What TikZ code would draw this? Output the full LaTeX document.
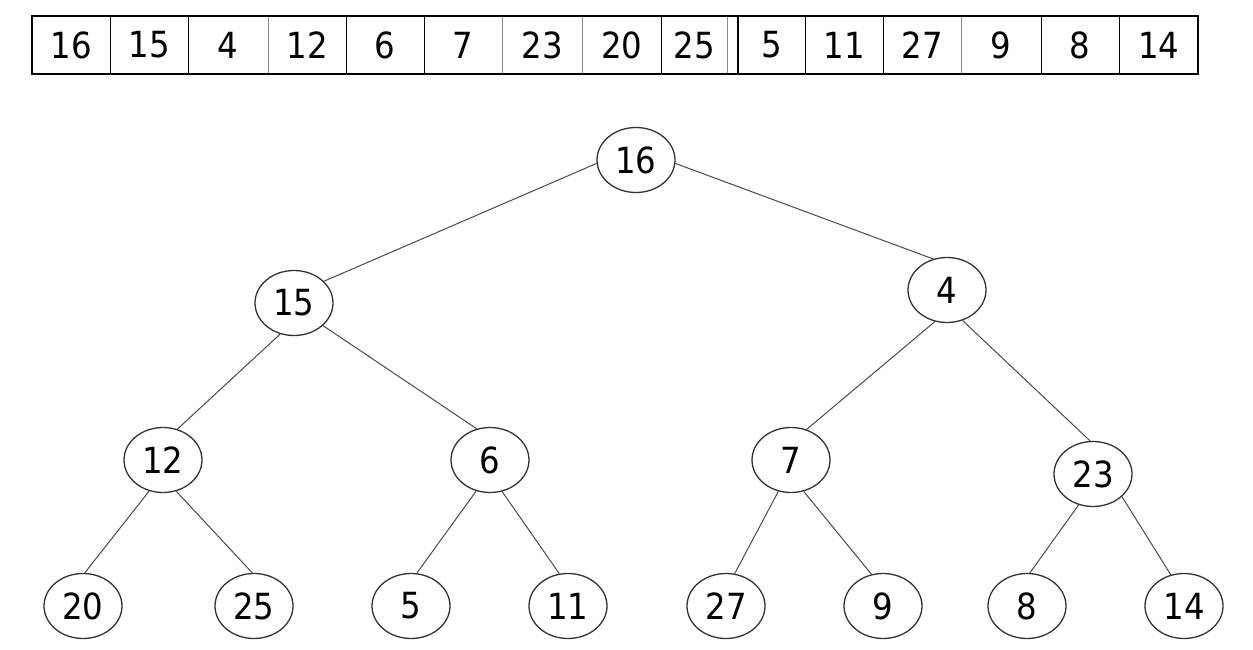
\documentclass[tikz,border=0pt]{standalone}
\usepackage{fontspec}
\setmainfont{DejaVu Sans}[FakeStretch=0.9]
\usetikzlibrary{shapes.geometric}
\definecolor{ringgray}{HTML}{333333}
\definecolor{edgegray}{HTML}{4A4A4A}
\definecolor{sepgray}{HTML}{8A8A8A}
\tikzset{
  numfont/.style={font=\fontsize{36}{40}\selectfont},
  cellbox/.style={numfont, rectangle, inner sep=0pt, minimum height=58pt, anchor=west},
  tnode/.style={numfont, ellipse, draw=ringgray, line width=1.3pt, fill=white, minimum width=78pt, minimum height=65pt, inner sep=0pt},
  tedge/.style={draw=edgegray, line width=1pt},
  blacksep/.style={draw=black, line width=1.8pt},
  graysep/.style={draw=sepgray, line width=1.4pt}
}
\begin{document}
\begin{tikzpicture}[x=1pt,y=-1pt]
\useasboundingbox (0,0) rectangle (1253,650);
% array cells
\node[cellbox, minimum width=78pt] (a1) at (32,45) {16};
\node[cellbox, minimum width=78pt] (a2) at (110,45) {15};
\node[cellbox, minimum width=80pt] (a3) at (188,45) {4};
\node[cellbox, minimum width=78pt] (a4) at (268,45) {12};
\node[cellbox, minimum width=78pt] (a5) at (346,45) {6};
\node[cellbox, minimum width=78pt] (a6) at (424,45) {7};
\node[cellbox, minimum width=80pt] (a7) at (502,45) {23};
\node[cellbox, minimum width=79pt] (a8) at (582,45) {20};
\node[cellbox, minimum width=66pt] (a9) at (661,45) {25};
\node[cellbox, minimum width=67pt] (a10) at (738,45) {5};
\node[cellbox, minimum width=78pt] (a11) at (805,45) {11};
\node[cellbox, minimum width=78pt] (a12) at (883,45) {27};
\node[cellbox, minimum width=80pt] (a13) at (961,45) {9};
\node[cellbox, minimum width=78pt] (a14) at (1041,45) {8};
\node[cellbox, minimum width=79pt] (a15) at (1119,45) {14};
% separators
\draw[blacksep] (a1.north east) -- (a1.south east);
\draw[blacksep] (a2.north east) -- (a2.south east);
\draw[graysep] (a3.north east) -- (a3.south east);
\draw[blacksep] (a4.north east) -- (a4.south east);
\draw[blacksep] (a5.north east) -- (a5.south east);
\draw[graysep] (a6.north east) -- (a6.south east);
\draw[graysep] (a7.north east) -- (a7.south east);
\draw[blacksep] (a8.north east) -- (a8.south east);
\draw[graysep] (a9.north east) -- (a9.south east);
\draw[blacksep] (a10.north west) -- (a10.south west);
\draw[blacksep] (a10.north east) -- (a10.south east);
\draw[blacksep] (a11.north east) -- (a11.south east);
\draw[graysep] (a12.north east) -- (a12.south east);
\draw[blacksep] (a13.north east) -- (a13.south east);
\draw[blacksep] (a14.north east) -- (a14.south east);
% outer frame
\draw[draw=black, line width=2pt] (a1.north west) rectangle (a15.south east);
% tree nodes
\node[tnode] (n16) at (636,160) {16};
\node[tnode] (n15) at (294,303) {15};
\node[tnode] (n4) at (947,290) {4};
\node[tnode] (n12) at (163,460) {12};
\node[tnode] (n6) at (490,460) {6};
\node[tnode] (n7) at (791,460) {7};
\node[tnode] (n23) at (1093,474) {23};
\node[tnode] (n20) at (83,606) {20};
\node[tnode] (n25) at (254,606) {25};
\node[tnode] (n5) at (411,606) {5};
\node[tnode] (n11) at (568,606) {11};
\node[tnode] (n27) at (726,606) {27};
\node[tnode] (n9) at (883,606) {9};
\node[tnode] (n8) at (1027,606) {8};
\node[tnode] (n14) at (1184,606) {14};
% tree edges
\draw[tedge] (n16.185) -- (n15.36);
\draw[tedge] (n16.-5) -- (n4.114);
\draw[tedge] (n15.-114) -- (n12.65);
\draw[tedge] (n15.-38) -- (n6.113);
\draw[tedge] (n4.-111) -- (n7.63);
\draw[tedge] (n4.-63) -- (n23.95);
\draw[tedge] (n12.-114) -- (n20.87);
\draw[tedge] (n12.-67) -- (n25.93);
\draw[tedge] (n6.-114) -- (n5.80);
\draw[tedge] (n6.-69) -- (n11.105);
\draw[tedge] (n7.-112) -- (n27.75);
\draw[tedge] (n7.-68) -- (n9.110);
\draw[tedge] (n23.-115) -- (n8.85);
\draw[tedge] (n23.-38) -- (n14.113);
\end{tikzpicture}
\end{document}
